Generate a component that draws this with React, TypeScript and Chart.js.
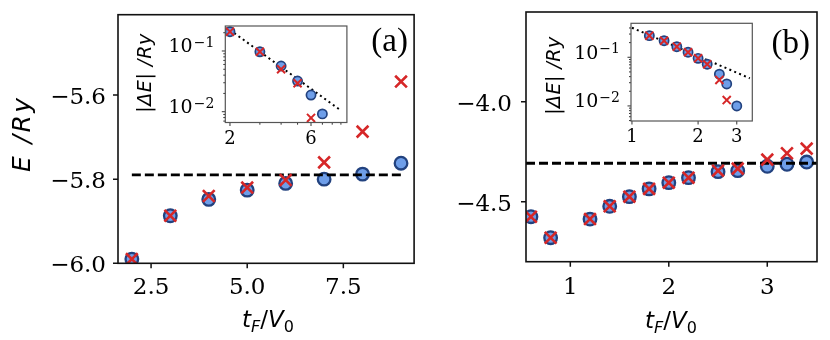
import React, { useEffect, useRef } from 'react';
import { Chart, registerables } from 'chart.js';

Chart.register(...registerables);

// ================= DATA =================
// Panel (a): main
const tfA = [2, 3, 4, 5, 6, 7, 8, 9];
const energyCircA = [-5.99, -5.887, -5.848, -5.826, -5.81, -5.8, -5.788, -5.762];
const energyCrossA = [-5.99, -5.887, -5.84, -5.82, -5.802, -5.76, -5.687, -5.568];
const refEnergyA = -5.79;
const refRangeA = [2, 9];
const xTicksA = [2.5, 5.0, 7.5];
const yTicksA = [-6.0, -5.8, -5.6];

// Panel (b): main
const tfB = [0.6, 0.8, 1.2, 1.4, 1.6, 1.8, 2.0, 2.2, 2.5, 2.7, 3.0, 3.2, 3.4];
const energyCircB = [-4.575, -4.68, -4.587, -4.523, -4.475, -4.436, -4.405, -4.38, -4.35, -4.345, -4.323, -4.313, -4.302];
const energyCrossB = [-4.575, -4.68, -4.587, -4.523, -4.475, -4.436, -4.405, -4.38, -4.345, -4.335, -4.29, -4.258, -4.235];
const refEnergyB = -4.308;
const refRangeB = [0.55, 3.5];
const xTicksB = [1, 2, 3];
const yTicksB = [-4.5, -4.0];

// Inset (a)
const insetTfCircA = [2, 3, 4, 5, 6, 7];
const insetDeltaCircA = [0.208, 0.097, 0.0566, 0.032, 0.0188, 0.0092];
const insetTfCrossA = [2, 3, 4, 5, 6];
const insetDeltaCrossA = [0.208, 0.097, 0.05, 0.0294, 0.0079];
const fitTfA = [2, 8.9];
const fitDeltaA = [0.222, 0.0107];
const insetXTicksA = [2, 3, 4, 5, 6, 7, 8, 9];
const insetXLabelsA = [2, 6];
const insetYTicksA = [0.007, 0.008, 0.009, 0.01, 0.02, 0.03, 0.04, 0.05, 0.06, 0.07, 0.08, 0.09, 0.1, 0.2];
const insetYMajorA = [0.01, 0.1];

// Inset (b)
const insetTfCircB = [1.2, 1.4, 1.6, 1.8, 2.0, 2.2, 2.5, 2.7, 3.0];
const insetDeltaCircB = [0.278, 0.219, 0.165, 0.127, 0.095, 0.072, 0.045, 0.0283, 0.01];
const insetTfCrossB = [1.2, 1.4, 1.6, 1.8, 2.0, 2.2, 2.5, 2.7];
const insetDeltaCrossB = [0.278, 0.219, 0.165, 0.127, 0.095, 0.072, 0.0342, 0.0132];
const fitTfB = [1.0, 3.44];
const fitDeltaB = [0.405, 0.037];
const insetXTicksB = [1, 2, 3];
const insetXLabelsB = [1, 2, 3];
const insetYTicksB = [0.005, 0.006, 0.007, 0.008, 0.009, 0.01, 0.02, 0.03, 0.04, 0.05, 0.06, 0.07, 0.08, 0.09, 0.1, 0.2, 0.3, 0.4];
const insetYMajorB = [0.01, 0.1];

// Text
const mainYTitle = 'E /Ry';
const insetYTitle = '|\u0394E| /Ry';

// ================= STYLE =================
const SERIF = "'DejaVu Serif', serif";
const SANS = "'DejaVu Sans', sans-serif";
const LABEL_FONT = "'Liberation Serif', serif";
const CIRCLE_FILL = '#6e9ee9';
const CIRCLE_EDGE = '#22427f';
const CROSS = '#d62728';

const zip = (xs: number[], ys: number[]) => xs.map((x, i) => ({ x, y: ys[i] }));
const fmt = (v: number, d: number) => (v < 0 ? '\u2212' : '') + Math.abs(v).toFixed(d);

type Part = { t: string; it?: boolean; sub?: boolean };
function drawMath(ctx: CanvasRenderingContext2D, parts: Part[], cx: number, baseline: number, size: number, subSize: number, subDrop: number) {
  const fontFor = (p: Part) => `${p.it ? 'italic ' : ''}${p.sub ? subSize : size}px ${SANS}`;
  let total = 0;
  const widths = parts.map((p) => {
    ctx.font = fontFor(p);
    const w = ctx.measureText(p.t).width;
    total += w;
    return w;
  });
  let x = cx - total / 2;
  ctx.textAlign = 'left';
  ctx.textBaseline = 'alphabetic';
  ctx.fillStyle = '#000';
  parts.forEach((p, i) => {
    ctx.font = fontFor(p);
    ctx.fillText(p.t, x, baseline + (p.sub ? subDrop : 0));
    x += widths[i];
  });
}

// vertical (rotated) title, spread to a given length along the axis
function drawVerticalTitle(ctx: CanvasRenderingContext2D, text: string, cx: number, cy: number, size: number, length: number) {
  ctx.save();
  ctx.translate(cx, cy);
  ctx.rotate(-Math.PI / 2);
  ctx.font = `italic ${size}px ${SANS}`;
  ctx.fillStyle = '#000';
  ctx.textAlign = 'left';
  ctx.textBaseline = 'middle';
  const chars = Array.from(text);
  const widths = chars.map((c) => ctx.measureText(c).width);
  const natural = widths.reduce((a, b) => a + b, 0);
  const gap = chars.length > 1 ? Math.max(0, (length - natural) / (chars.length - 1)) : 0;
  let x = -(natural + gap * (chars.length - 1)) / 2;
  chars.forEach((c, i) => {
    ctx.fillText(c, x, 0);
    x += widths[i] + gap;
  });
  ctx.restore();
}

const X_TITLE: Part[] = [
  { t: 't', it: true },
  { t: 'F', it: true, sub: true },
  { t: '/' },
  { t: 'V', it: true },
  { t: '0', sub: true },
];

type MainSpec = {
  circX: number[]; circY: number[]; crossX: number[]; crossY: number[];
  refY: number; refRange: number[];
  xMin: number; xMax: number; yMin: number; yMax: number;
  xTicks: number[]; yTicks: number[]; xDigits: number; yDigits: number;
  pad: { top: number; right: number };
  yWidth: number; xHeight: number;
  yTitle: string | null; yTitleX: number; yTitleY: number;
  yTickPad: number; xTickPad: number; yLabelOffset: number;
  panelLabel: string; labelX: number; labelY: number;
  xTitleX: number; xTitleY: number;
};

function mainConfig(s: MainSpec): any {
  const decor = {
    id: 'decor',
    afterDraw(chart: any) {
      const ctx = chart.ctx as CanvasRenderingContext2D;
      const a = chart.chartArea;
      ctx.save();
      ctx.strokeStyle = '#111';
      ctx.lineWidth = 1.5;
      ctx.beginPath();
      for (const v of s.xTicks) {
        const px = chart.scales.x.getPixelForValue(v);
        ctx.moveTo(px, a.bottom);
        ctx.lineTo(px, a.bottom + 5);
      }
      for (const v of s.yTicks) {
        const py = chart.scales.y.getPixelForValue(v);
        ctx.moveTo(a.left, py);
        ctx.lineTo(a.left - 5, py);
      }
      ctx.stroke();
      ctx.lineWidth = 1.6;
      ctx.strokeRect(a.left, a.top, a.right - a.left, a.bottom - a.top);
      drawMath(ctx, X_TITLE, s.xTitleX, s.xTitleY, 23, 16, 4.5);
      if (s.yTitle) drawVerticalTitle(ctx, s.yTitle, s.yTitleX, s.yTitleY, 25, 74);
      ctx.font = `33px ${LABEL_FONT}`;
      ctx.textAlign = 'right';
      ctx.textBaseline = 'alphabetic';
      ctx.fillStyle = '#000';
      ctx.fillText(s.panelLabel, s.labelX, s.labelY);
      ctx.restore();
    },
  };
  return {
    type: 'scatter',
    data: {
      datasets: [
        {
          label: 'crosses', data: zip(s.crossX, s.crossY), pointStyle: 'crossRot', pointRadius: 8.3,
          pointBorderWidth: 2.6, pointBorderColor: CROSS, pointBackgroundColor: CROSS, order: 0, clip: 0,
        },
        {
          label: 'reference', data: s.refRange.map((x) => ({ x, y: s.refY })), showLine: true, pointRadius: 0,
          borderColor: '#000', borderWidth: 2.8, borderDash: [9, 4], order: 1, clip: 0,
        },
        {
          label: 'circles', data: zip(s.circX, s.circY), pointStyle: 'circle', pointRadius: 6.3,
          pointBorderWidth: 2.3, pointBorderColor: CIRCLE_EDGE, pointBackgroundColor: CIRCLE_FILL, order: 2, clip: 0,
        },
      ],
    },
    options: {
      responsive: false,
      maintainAspectRatio: false,
      animation: false,
      events: [],
      layout: { padding: { top: s.pad.top, right: s.pad.right, left: 0, bottom: 0 } },
      plugins: { legend: { display: false }, tooltip: { enabled: false } },
      scales: {
        x: {
          type: 'linear', min: s.xMin, max: s.xMax,
          grid: { display: false, drawTicks: false, tickLength: 0 },
          border: { display: false },
          ticks: {
            autoSkip: false, maxRotation: 0, minRotation: 0, padding: s.xTickPad, color: '#000',
            font: { family: SERIF, size: 23 },
            callback: (v: number) => fmt(v, s.xDigits),
          },
          afterBuildTicks: (sc: any) => { sc.ticks = s.xTicks.map((v) => ({ value: v })); },
          afterFit: (sc: any) => {
            sc.height = s.xHeight; sc.paddingLeft = 0; sc.paddingRight = 0; sc.paddingTop = 0; sc.paddingBottom = 0;
          },
        },
        y: {
          type: 'linear', min: s.yMin, max: s.yMax,
          grid: { display: false, drawTicks: false, tickLength: 0 },
          border: { display: false },
          ticks: {
            autoSkip: false, padding: s.yTickPad, color: '#000', labelOffset: s.yLabelOffset,
            font: { family: SERIF, size: 23 },
            callback: (v: number) => fmt(v, s.yDigits),
          },
          afterBuildTicks: (sc: any) => { sc.ticks = s.yTicks.map((v) => ({ value: v })); },
          afterFit: (sc: any) => {
            sc.width = s.yWidth; sc.paddingLeft = 0; sc.paddingRight = 0; sc.paddingTop = 0; sc.paddingBottom = 0;
          },
        },
      },
    },
    plugins: [decor],
  };
}

type InsetSpec = {
  circX: number[]; circY: number[]; crossX: number[]; crossY: number[];
  fitX: number[]; fitY: number[];
  xMin: number; xMax: number; yMin: number; yMax: number;
  xTicks: number[]; xLabels: number[]; yTicks: number[]; yMajor: number[];
  pad: { top: number; right: number };
  yWidth: number; xHeight: number;
  yTitleX: number; yTitleY: number; yTitleLen: number;
};

function insetConfig(s: InsetSpec): any {
  const decor = {
    id: 'insetDecor',
    beforeDatasetsDraw(chart: any) {
      const ctx = chart.ctx as CanvasRenderingContext2D;
      const a = chart.chartArea;
      ctx.save();
      ctx.fillStyle = '#fff';
      ctx.fillRect(a.left, a.top, a.right - a.left, a.bottom - a.top);
      ctx.restore();
    },
    afterDraw(chart: any) {
      const ctx = chart.ctx as CanvasRenderingContext2D;
      const a = chart.chartArea;
      ctx.save();
      ctx.strokeStyle = '#333';
      ctx.lineWidth = 1;
      ctx.beginPath();
      for (const v of s.xTicks) {
        const px = chart.scales.x.getPixelForValue(v);
        const len = s.xLabels.includes(v) ? 3.5 : 2.2;
        ctx.moveTo(px, a.bottom);
        ctx.lineTo(px, a.bottom + len);
      }
      for (const v of s.yTicks) {
        const py = chart.scales.y.getPixelForValue(v);
        const len = s.yMajor.includes(v) ? 3.5 : 2;
        ctx.moveTo(a.left, py);
        ctx.lineTo(a.left - len, py);
      }
      ctx.stroke();
      ctx.strokeStyle = '#555';
      ctx.lineWidth = 1.2;
      ctx.strokeRect(a.left, a.top, a.right - a.left, a.bottom - a.top);
      // y tick labels 10^n
      ctx.fillStyle = '#000';
      ctx.textBaseline = 'alphabetic';
      ctx.textAlign = 'right';
      for (const v of s.yMajor) {
        const py = chart.scales.y.getPixelForValue(v);
        const exp = Math.round(Math.log10(v));
        const expText = (exp < 0 ? '\u2212' : '') + Math.abs(exp);
        const right = a.left - 11;
        ctx.font = `14px ${SERIF}`;
        const wExp = ctx.measureText(expText).width;
        ctx.fillText(expText, right, py - 4);
        ctx.font = `19px ${SERIF}`;
        ctx.fillText('10', right - wExp - 1, py + 1.5);
      }
      drawVerticalTitle(ctx, insetYTitle, s.yTitleX, s.yTitleY, 19, s.yTitleLen);
      ctx.restore();
    },
  };
  return {
    type: 'scatter',
    data: {
      datasets: [
        {
          label: 'crosses', data: zip(s.crossX, s.crossY), pointStyle: 'crossRot', pointRadius: 5.7,
          pointBorderWidth: 2, pointBorderColor: CROSS, pointBackgroundColor: CROSS, order: 0, clip: 0,
        },
        {
          label: 'circles', data: zip(s.circX, s.circY), pointStyle: 'circle', pointRadius: 4.6,
          pointBorderWidth: 1.7, pointBorderColor: CIRCLE_EDGE, pointBackgroundColor: CIRCLE_FILL, order: 1, clip: 0,
        },
        {
          label: 'fit', data: zip(s.fitX, s.fitY), showLine: true, pointRadius: 0,
          borderColor: '#000', borderWidth: 2, borderDash: [2, 3.3], order: 2, clip: 0,
        },
      ],
    },
    options: {
      responsive: false,
      maintainAspectRatio: false,
      animation: false,
      events: [],
      layout: { padding: { top: s.pad.top, right: s.pad.right, left: 0, bottom: 0 } },
      plugins: { legend: { display: false }, tooltip: { enabled: false } },
      scales: {
        x: {
          type: 'logarithmic', min: s.xMin, max: s.xMax,
          grid: { display: false, drawTicks: false, tickLength: 0 },
          border: { display: false },
          ticks: {
            autoSkip: false, maxRotation: 0, minRotation: 0, padding: 6, color: '#000',
            font: { family: SERIF, size: 18 },
            callback: (v: number) => (s.xLabels.includes(v) ? String(v) : ''),
          },
          afterBuildTicks: (sc: any) => { sc.ticks = s.xTicks.map((v) => ({ value: v })); },
          afterFit: (sc: any) => {
            sc.height = s.xHeight; sc.paddingLeft = 0; sc.paddingRight = 0; sc.paddingTop = 0; sc.paddingBottom = 0;
          },
        },
        y: {
          type: 'logarithmic', min: s.yMin, max: s.yMax,
          grid: { display: false, drawTicks: false, tickLength: 0 },
          border: { display: false },
          ticks: { display: false },
          afterFit: (sc: any) => {
            sc.width = s.yWidth; sc.paddingLeft = 0; sc.paddingRight = 0; sc.paddingTop = 0; sc.paddingBottom = 0;
          },
        },
      },
    },
    plugins: [decor],
  };
}

function ChartCanvas({ config, left, top, width, height }: { config: any; left: number; top: number; width: number; height: number }) {
  const ref = useRef<HTMLCanvasElement>(null);
  useEffect(() => {
    const chart = new Chart(ref.current as HTMLCanvasElement, config);
    return () => chart.destroy();
  }, []);
  return (
    <canvas
      ref={ref}
      width={width}
      height={height}
      style={{ position: 'absolute', left, top, width, height }}
    />
  );
}

export default function App() {
  const cfgA = mainConfig({
    circX: tfA, circY: energyCircA, crossX: tfA, crossY: energyCrossA,
    refY: refEnergyA, refRange: refRangeA,
    xMin: 1.64, xMax: 9.34, yMin: -6.0, yMax: -5.409,
    xTicks: xTicksA, yTicks: yTicksA, xDigits: 1, yDigits: 1,
    pad: { top: 14.7, right: 5.7 }, yWidth: 118, xHeight: 76.7,
    yTitle: mainYTitle, yTitleX: 23, yTitleY: 135,
    yTickPad: 12, xTickPad: 11, yLabelOffset: 3,
    panelLabel: '(a)', labelX: 408, labelY: 51,
    xTitleX: 268, xTitleY: 327,
  });
  const cfgB = mainConfig({
    circX: tfB, circY: energyCircB, crossX: tfB, crossY: energyCrossB,
    refY: refEnergyB, refRange: refRangeB,
    xMin: 0.55, xMax: 3.505, yMin: -4.8, yMax: -3.552,
    xTicks: xTicksB, yTicks: yTicksB, xDigits: 0, yDigits: 1,
    pad: { top: 12, right: 13 }, yWidth: 106, xHeight: 78.3,
    yTitle: null, yTitleX: 0, yTitleY: 0,
    yTickPad: 14, xTickPad: 13, yLabelOffset: 3,
    panelLabel: '(b)', labelX: 810 - 420, labelY: 53,
    xTitleX: 671 - 420, xTitleY: 328,
  });
  const cfgInA = insetConfig({
    circX: insetTfCircA, circY: insetDeltaCircA, crossX: insetTfCrossA, crossY: insetDeltaCrossA,
    fitX: fitTfA, fitY: fitDeltaA,
    xMin: 1.877, xMax: 9.76, yMin: 0.00664, yMax: 0.258,
    xTicks: insetXTicksA, xLabels: insetXLabelsA, yTicks: insetYTicksA, yMajor: insetYMajorA,
    pad: { top: 11, right: 8.1 }, yWidth: 95.3, xHeight: 27.5,
    yTitleX: 146 - 130, yTitleY: 73.3 - 15, yTitleLen: 79,
  });
  const cfgInB = insetConfig({
    circX: insetTfCircB, circY: insetDeltaCircB, crossX: insetTfCrossB, crossY: insetDeltaCrossB,
    fitX: fitTfB, fitY: fitDeltaB,
    xMin: 0.99, xMax: 3.53, yMin: 0.0049, yMax: 0.499,
    xTicks: insetXTicksB, xLabels: insetXLabelsB, yTicks: insetYTicksB, yMajor: insetYMajorB,
    pad: { top: 13.3, right: 4.2 }, yWidth: 96, xHeight: 24,
    yTitleX: 555 - 535, yTitleY: 75.8 - 10, yTitleLen: 78,
  });
  return (
    <div style={{ position: 'fixed', left: 0, top: 0, width: 830, height: 340, background: '#fff', overflow: 'hidden' }}>
      <ChartCanvas config={cfgA} left={0} top={0} width={425} height={340} />
      <ChartCanvas config={cfgB} left={420} top={0} width={410} height={340} />
      <ChartCanvas config={cfgInA} left={130} top={15} width={225} height={135} />
      <ChartCanvas config={cfgInB} left={535} top={10} width={225} height={135} />
    </div>
  );
}
